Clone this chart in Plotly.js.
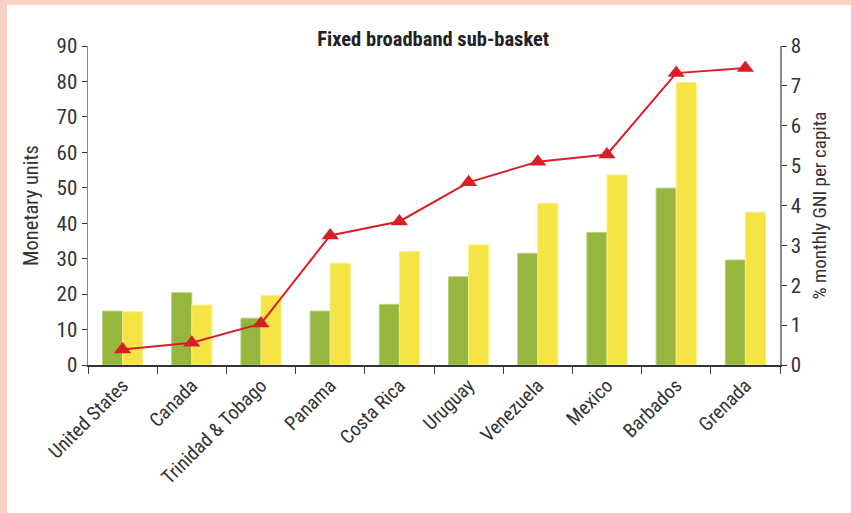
<!DOCTYPE html>
<html>
<head>
<meta charset="utf-8">
<script src="https://cdn.plot.ly/plotly-3.0.1.min.js"></script>
<style>
html,body{margin:0;padding:0;background:#fff;}
#frame{position:absolute;left:0;top:0;width:844px;height:508px;border-left:7px solid #f8d2c3;border-top:5px solid #f8d2c3;background:#fff;}
#chart{width:844px;height:508px;}
</style>
</head>
<body>
<div id="frame"><div id="chart"></div></div>
<script>
const countries = ["United States","Canada","Trinidad & Tobago","Panama","Costa Rica","Uruguay","Venezuela","Mexico","Barbados","Grenada"];
const seriesGreen = [15.2,20.4,13.2,15.2,17.1,24.9,31.5,37.4,49.9,29.6];
const seriesYellow = [15.0,16.9,19.6,28.7,32.0,33.9,45.6,53.6,79.7,43.1];
const gniPercent = [0.39,0.56,1.04,3.25,3.6,4.58,5.1,5.28,7.32,7.45];

const FONT = '"Liberation Sans Narrow","Arial Narrow","Roboto Condensed","Liberation Sans",sans-serif';

const traces = [
  {type:'bar', x:countries, y:seriesGreen, name:'Green',
   marker:{color:'#95b73d', line:{color:'#b7cf7a', width:1}}, showlegend:false, hoverinfo:'skip'},
  {type:'bar', x:countries, y:seriesYellow, name:'Yellow',
   marker:{color:'#f6e344', line:{color:'#f9ee8a', width:1}}, showlegend:false, hoverinfo:'skip'},
  {type:'scatter', mode:'lines+markers', x:countries, y:gniPercent, yaxis:'y2',
   line:{color:'#d91f26', width:2}, marker:{symbol:'triangle-up', size:15, color:'#d91f26'},
   showlegend:false, hoverinfo:'skip', cliponaxis:false}
];

const layout = {
  width:844, height:508,
  margin:{l:81, r:71, t:41, b:148},
  paper_bgcolor:'#fff', plot_bgcolor:'#fff',
  barmode:'group', bargap:0.42, bargroupgap:0,
  font:{family:FONT, color:'#333'},
  title:{text:'<b>Fixed broadband sub-basket</b>', font:{family:FONT, size:20.5, color:'#222'},
         x:0.505, xanchor:'center', y:0.934, yanchor:'middle'},
  xaxis:{type:'category', range:[-0.5, 9.5], tickangle:-45, tickfont:{size:19.5, color:'#333'}, automargin:false,
         showline:true, linecolor:'#333', linewidth:1.5,
         ticks:'outside', tickson:'boundaries', ticklen:7, tickcolor:'#444', tickwidth:1,
         showgrid:false, zeroline:false},
  yaxis:{range:[0,90], dtick:10, tickfont:{size:21, color:'#333'}, automargin:false,
         showline:true, linecolor:'#888', linewidth:1.5,
         ticks:'outside', ticklen:5, tickcolor:'#333',
         showgrid:false, zeroline:false,
         title:{text:'Monetary units', font:{size:20.5, color:'#333'}, standoff:12}},
  yaxis2:{range:[0,8], dtick:1, overlaying:'y', side:'right', tickfont:{size:21, color:'#333'}, automargin:false,
         showline:true, linecolor:'#888', linewidth:1.5,
         ticks:'outside', ticklen:5, tickcolor:'#333',
         showgrid:false, zeroline:false,
         title:{text:'% monthly GNI per capita', font:{size:19, color:'#333'}, standoff:12}}
};

Plotly.newPlot('chart', traces, layout, {displayModeBar:false, staticPlot:true});
</script>
</body>
</html>
